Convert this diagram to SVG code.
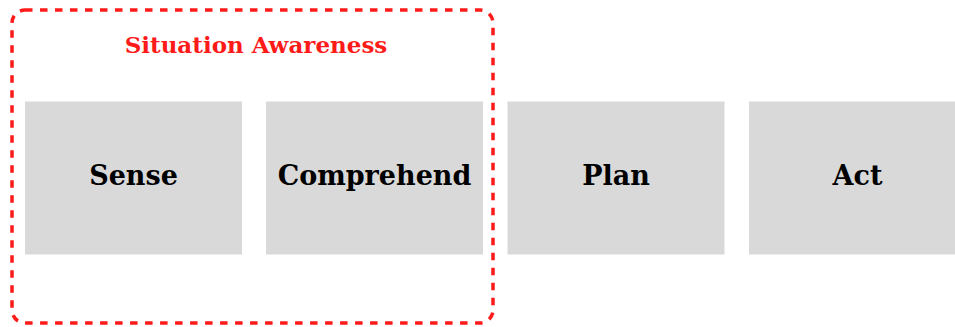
<svg xmlns="http://www.w3.org/2000/svg" width="955" height="327" viewBox="0 0 955 327">
  <style>
    .box { fill: #d9d9d9; }
    .label { font-family: "DejaVu Serif", "Liberation Serif", serif; font-weight: bold; font-size: 27px; fill: #000; text-anchor: middle; }
    .group { fill: none; stroke: #ff1a1a; stroke-width: 3.5; stroke-dasharray: 7.5 7.5; }
    .title { font-family: "DejaVu Serif", "Liberation Serif", serif; font-weight: bold; font-size: 23px; fill: #ff1a1a; text-anchor: middle; }
  </style>
  <g id="situation-awareness">
    <rect class="group" x="12" y="10" width="481" height="313" rx="13"/>
    <text class="title" x="256" y="53">Situation Awareness</text>
  </g>
  <g id="sense">
    <rect class="box" x="25" y="101.5" width="217" height="153"/>
    <text class="label" x="133.5" y="185">Sense</text>
  </g>
  <g id="comprehend">
    <rect class="box" x="266" y="101.5" width="217" height="153"/>
    <text class="label" x="374.5" y="185">Comprehend</text>
  </g>
  <g id="plan">
    <rect class="box" x="507.5" y="101.5" width="217" height="153"/>
    <text class="label" x="616" y="185">Plan</text>
  </g>
  <g id="act">
    <rect class="box" x="749" y="101.5" width="217" height="153"/>
    <text class="label" x="857.5" y="185">Act</text>
  </g>
  <g id="connectors"></g>
</svg>
